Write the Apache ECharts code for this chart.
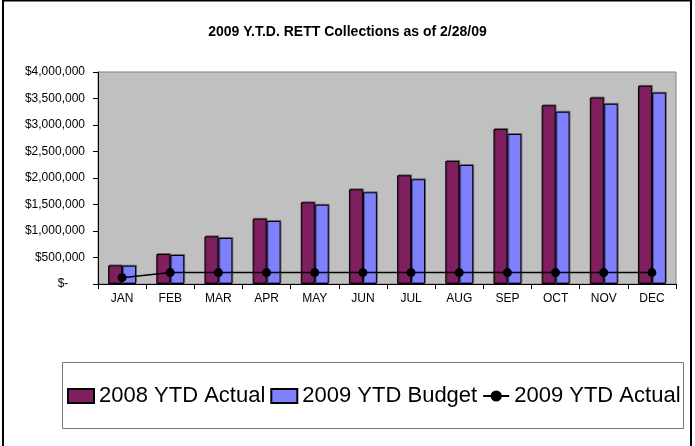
<!DOCTYPE html>
<html>
<head>
<meta charset="utf-8">
<script src="https://cdn.jsdelivr.net/npm/echarts@6/dist/echarts.min.js"></script>
<style>
html,body{margin:0;padding:0;background:#fff;}
#chart{width:695px;height:446px;}
</style>
</head>
<body>
<div id="chart"></div>
<script>
var titleText = '2009 Y.T.D. RETT Collections as of 2/28/09';
var categories = ['JAN','FEB','MAR','APR','MAY','JUN','JUL','AUG','SEP','OCT','NOV','DEC'];
var actual2008 = [352000, 566000, 900000, 1232000, 1541000, 1787000, 2051000, 2321000, 2925000, 3372000, 3518000, 3740000];
var budget2009 = [345000, 547000, 868000, 1189000, 1496000, 1730000, 1975000, 2245000, 2830000, 3250000, 3400000, 3610000];
var actual2009 = [120000, 215000, 215000, 215000, 215000, 215000, 215000, 215000, 215000, 215000, 215000, 215000];
var seriesNames = ['2008 YTD Actual', '2009 YTD Budget', '2009 YTD Actual'];

var FONT = 'Arial, "Liberation Sans", sans-serif';
function money(v){
  if (v === 0) return '$-\u00a0\u00a0\u00a0\u00a0\u00a0';
  return '$' + v.toString().replace(/\B(?=(\d{3})+(?!\d))/g, ',');
}

var chart = echarts.init(document.getElementById('chart'), null, {renderer:'canvas'});
chart.setOption({
  animation: false,
  backgroundColor: '#fff',
  title: {
    text: titleText,
    left: 'center',
    top: 20,
    textStyle: {fontFamily: FONT, fontSize: 14, fontWeight: 'bold', color: '#000'}
  },
  graphic: [
    {type:'rect', shape:{x:3, y:0.5, width:688, height:460}, style:{fill:'none', stroke:'#000', lineWidth:2}, z:-1},
    {type:'rect', shape:{x:62.5, y:362.5, width:621, height:66}, style:{fill:'#fff', stroke:'#777', lineWidth:1}, z:-1}
  ],
  legend: {
    left: 67,
    top: 385,
    padding: 0,
    itemWidth: 26,
    itemHeight: 14,
    itemGap: 5,
    textStyle: {fontFamily: FONT, fontSize: 22, color: '#000'},
    data: [
      {name: seriesNames[0], icon: 'rect'},
      {name: seriesNames[1], icon: 'rect'},
      {name: seriesNames[2]}
    ]
  },
  grid: {left: 98, right: 19, top: 72, bottom: 162, show: true, backgroundColor: '#C0C0C0', borderColor: '#808080', borderWidth: 1},
  xAxis: {
    type: 'category',
    data: categories,
    boundaryGap: true,
    axisLine: {lineStyle: {color: '#000', width: 1}},
    axisTick: {show: true, length: 5, lineStyle: {color: '#000'}},
    axisLabel: {fontFamily: FONT, fontSize: 12, color: '#000', margin: 9}
  },
  yAxis: {
    type: 'value',
    min: 0,
    max: 4000000,
    interval: 500000,
    axisLine: {show: true, lineStyle: {color: '#000', width: 1}},
    axisTick: {show: true, length: 5, lineStyle: {color: '#000'}},
    splitLine: {show: false},
    axisLabel: {fontFamily: FONT, fontSize: 12, color: '#000', margin: 13, formatter: money}
  },
  series: [
    {
      name: seriesNames[0], type: 'bar', data: actual2008,
      barGap: '0%', barCategoryGap: '42%',
      itemStyle: {color: '#7F1F5F', borderColor: '#000', borderWidth: 1,
        shadowColor: 'rgba(0,0,0,0.35)', shadowOffsetX: 1, shadowOffsetY: -1, shadowBlur: 0}
    },
    {
      name: seriesNames[1], type: 'bar', data: budget2009,
      barGap: '0%', barCategoryGap: '42%',
      itemStyle: {color: '#8080FF', borderColor: '#000', borderWidth: 1,
        shadowColor: 'rgba(0,0,0,0.35)', shadowOffsetX: 1, shadowOffsetY: -1, shadowBlur: 0}
    },
    {
      name: seriesNames[2], type: 'line', data: actual2009,
      symbol: 'circle', symbolSize: 9,
      lineStyle: {color: '#000', width: 1.5},
      itemStyle: {color: '#000'},
      z: 5
    }
  ]
});
</script>
</body>
</html>
